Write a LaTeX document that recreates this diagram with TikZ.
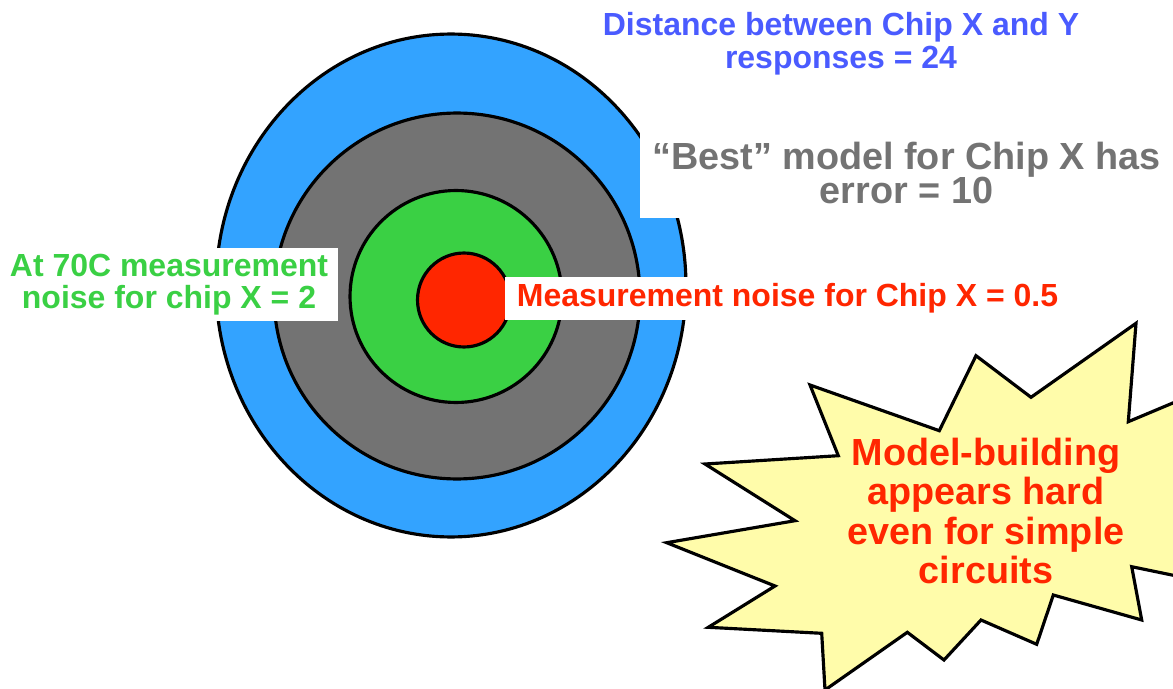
\documentclass[tikz,border=0pt]{standalone}
\usepackage{fontspec}
\setmainfont{Liberation Sans}
\usetikzlibrary{positioning}

\definecolor{ringblue}{RGB}{51,163,255}
\definecolor{ringgray}{RGB}{115,115,115}
\definecolor{ringgreen}{RGB}{58,208,68}
\definecolor{ringred}{RGB}{255,38,0}
\definecolor{textblue}{RGB}{74,91,255}
\definecolor{burstyellow}{RGB}{255,252,170}

\begin{document}
\begin{tikzpicture}[
    x=0.02cm, y=-0.02cm,
    ring/.style={draw, line width=1.8pt},
    lbl/.style={align=center, inner sep=0pt},
    whitebox/.style={lbl, fill=white},
    mid/.style={font=\fontsize{18.2pt}{18.6pt}\selectfont\bfseries},
    large/.style={font=\fontsize{21.5pt}{19.6pt}\selectfont\bfseries},
    huge/.style={font=\fontsize{21.5pt}{22.3pt}\selectfont\bfseries},
]
\useasboundingbox (0,0) rectangle (1173,689);
\clip (0,0) rectangle (1173,689);

% ── Target rings ─────────────────────────────────────────────────────────────
\draw[ring, fill=ringblue]  (451,285.5) ellipse [x radius=4.70cm, y radius=5.03cm];
\draw[ring, fill=ringgray]  (457,296)   ellipse [x radius=3.66cm, y radius=3.66cm];
\draw[ring, fill=ringgreen] (456,296.5) ellipse [x radius=2.12cm, y radius=2.12cm];
\draw[ring, fill=ringred]   (464,300)   ellipse [x radius=0.93cm, y radius=0.94cm];

% ── Ring labels ──────────────────────────────────────────────────────────────
\node[lbl, mid, text=textblue, anchor=north] (distance) at (841,12)
      {Distance between Chip X and Y\\responses = 24};
\node[whitebox, large, text=ringgray, minimum width=10.66cm, minimum height=1.8cm] (bestmodel) at (906.5,173)
      {“Best” model for Chip X has\\error = 10};
\node[whitebox, mid, text=ringgreen, minimum width=6.76cm, minimum height=1.46cm] (hotnoise) at (169,284.5)
      {At 70C measurement\\noise for chip X = 2};
\node[whitebox, mid, text=ringred, minimum width=11.3cm, minimum height=0.86cm] (chipnoise) at (787.5,298.5)
      {Measurement noise for Chip X = 0.5};

% ── Starburst ────────────────────────────────────────────────────────────────
\draw[line width=1.8pt, line join=miter, fill=burstyellow]
    (810,385) -- (939.3,430.7) -- (976,355.7) -- (1031,397.3) -- (1136,323.3)
    -- (1128.3,421.7) -- (1230,379) -- (1230,587) -- (1131.7,566.7) -- (1141.7,620)
    -- (1053.3,595) -- (1036.7,644.3) -- (981,620) -- (944,660) -- (907.3,632.3)
    -- (825,690) -- (821.7,633.3) -- (708.3,627.3) -- (775,586) -- (666.7,542.7)
    -- (795,520.7) -- (705,464) -- (838.3,455.7) -- cycle;
\node[lbl, huge, text=ringred, anchor=north] (hardmodel) at (986,438)
      {Model-building\\appears hard\\even for simple\\circuits};

\end{tikzpicture}
\end{document}
